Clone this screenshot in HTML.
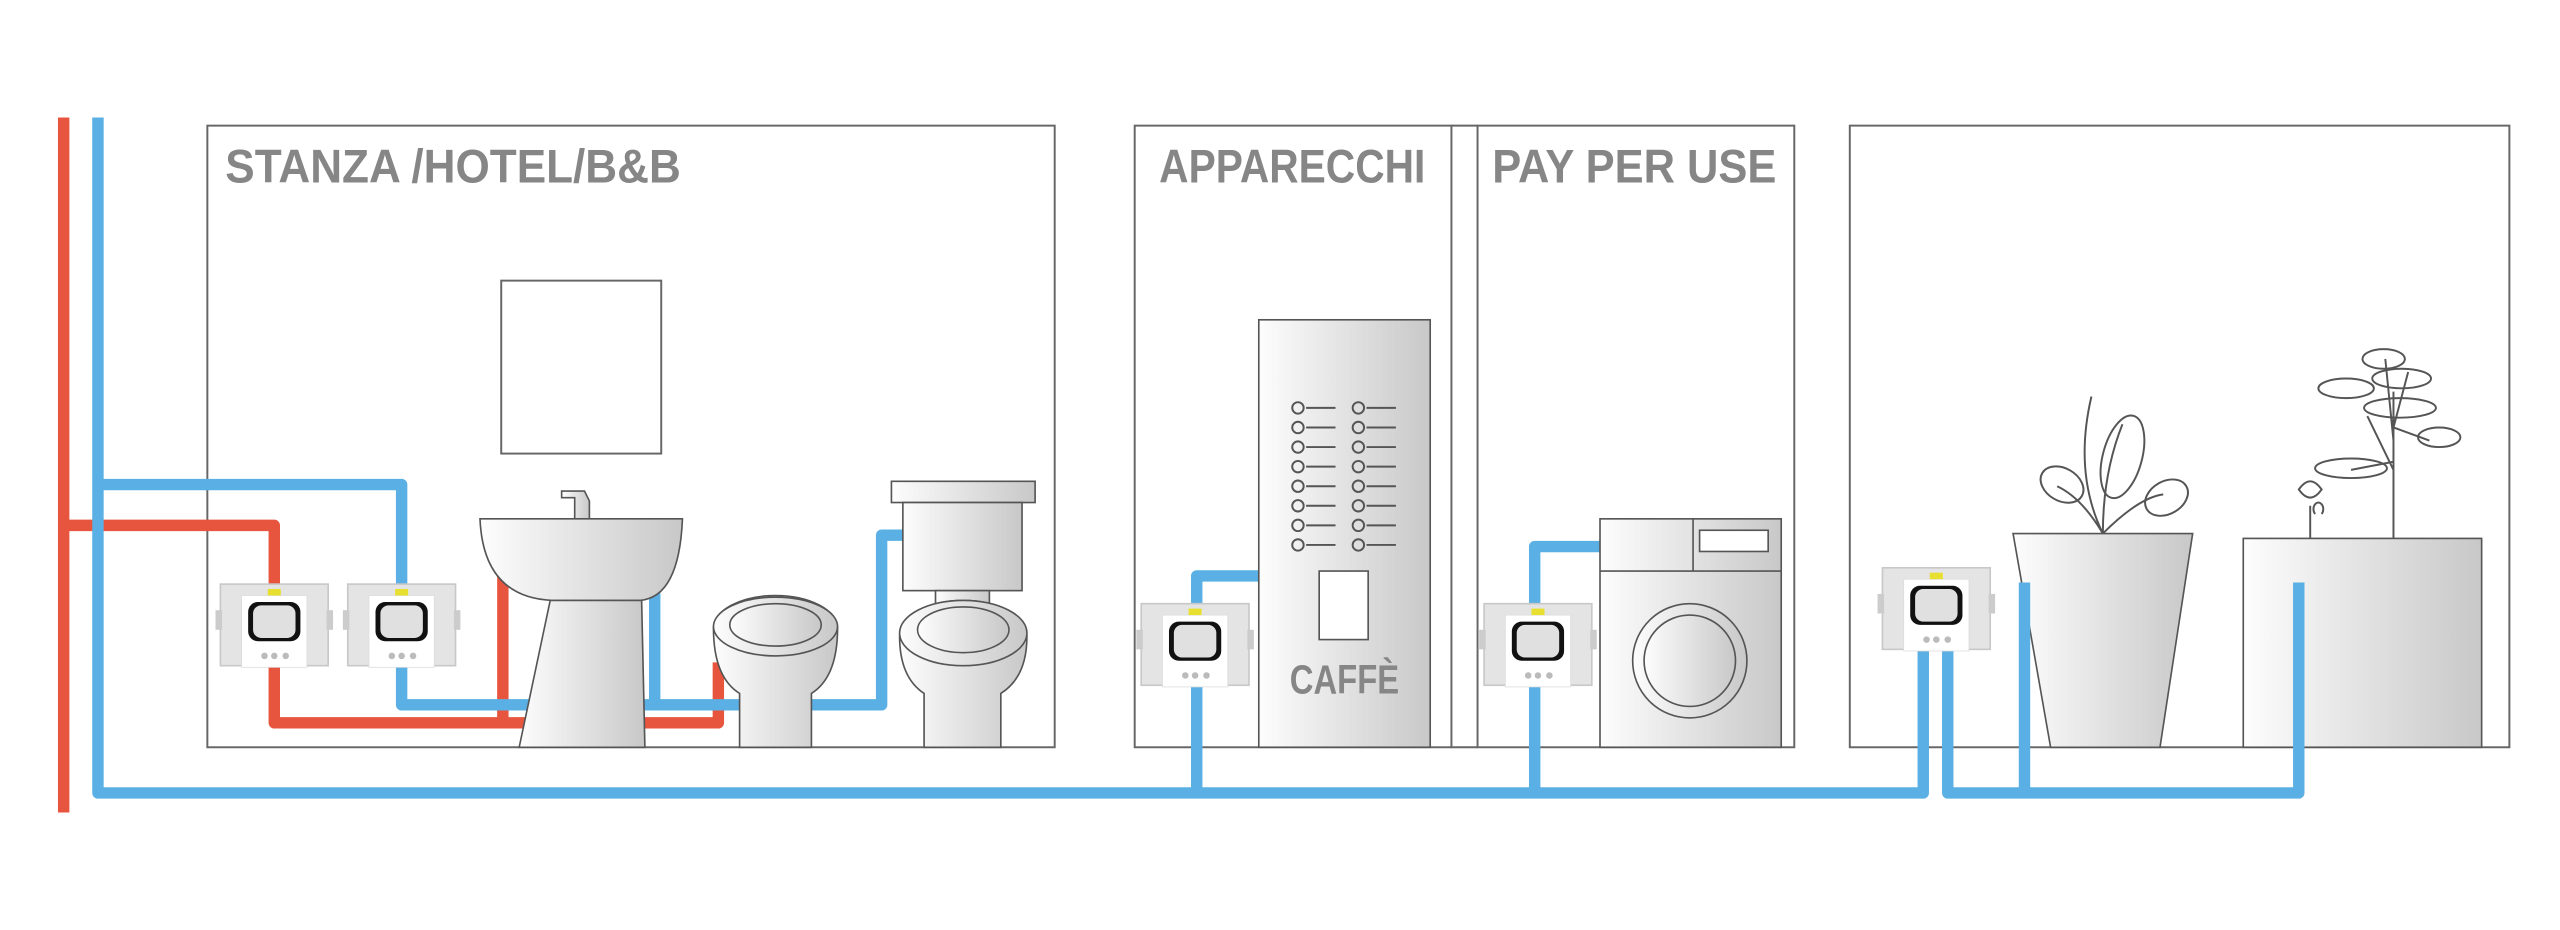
<!DOCTYPE html>
<html><head><meta charset="utf-8"><style>
html,body{margin:0;padding:0;background:#fff;width:2560px;height:930px;overflow:hidden}
svg{display:block}
text{font-family:"Liberation Sans Narrow","Liberation Sans",sans-serif;fill:#868686}
</style></head><body>
<svg width="2560" height="930" viewBox="0 0 1568 570" preserveAspectRatio="none" xmlns="http://www.w3.org/2000/svg">
<defs>
<linearGradient id="g" x1="0" x2="1" y1="0" y2="0"><stop offset="0" stop-color="#fdfdfd"/><stop offset="1" stop-color="#c8c8c8"/></linearGradient>
<g id="meter">
<rect x="0" y="0" width="66" height="50" fill="#e4e4e4" stroke="#c8c8c8"/>
<rect x="-3" y="16" width="4" height="12" fill="#ccc"/><rect x="65" y="16" width="4" height="12" fill="#ccc"/>
<rect x="13" y="7" width="40" height="44" fill="#fff" stroke="#ddd" stroke-width="0.5"/>
<rect x="29" y="3" width="8" height="4" fill="#e8e030"/>
<rect x="17" y="11" width="32" height="24" rx="6" fill="#111"/>
<rect x="20" y="13" width="26" height="20" rx="5" fill="#e0e0e0"/>
<circle cx="27" cy="44" r="2" fill="#bbb"/><circle cx="33" cy="44" r="2" fill="#bbb"/><circle cx="40" cy="44" r="2" fill="#bbb"/>
</g>
</defs>
<g fill="none" stroke="#666" stroke-width="1.2">
<rect x="127" y="77" width="519" height="381"/>
<rect x="307" y="172" width="98" height="106"/>
<rect x="695" y="77" width="194" height="381"/>
<rect x="905" y="77" width="194" height="381"/>
<line x1="889" y1="77" x2="905" y2="77"/><line x1="889" y1="458" x2="905" y2="458"/>
<rect x="1133" y="77" width="404" height="381"/>
</g>
<text x="138" y="112" font-size="29" font-weight="bold" textLength="279" lengthAdjust="spacingAndGlyphs">STANZA /HOTEL/B&amp;B</text>
<text x="710" y="112" font-size="29" font-weight="bold" textLength="163" lengthAdjust="spacingAndGlyphs">APPARECCHI</text>
<text x="914" y="112" font-size="29" font-weight="bold" textLength="174" lengthAdjust="spacingAndGlyphs">PAY PER USE</text>
<!-- pipes -->
<g fill="none" stroke-width="7" stroke-linejoin="round">
<path d="M39 72 V498" stroke="#e8553f"/>
<path d="M39 322 H168 V443 H440 V406" stroke="#e8553f"/>
<path d="M308 443 V350" stroke="#e8553f"/>
<path d="M60 72 V486 H1178 V395" stroke="#5ab0e4"/>
<path d="M60 297 H246 V432 H540 V328 H556" stroke="#5ab0e4"/>
<path d="M401 432 V350" stroke="#5ab0e4"/>
<path d="M733 486 V353 H771" stroke="#5ab0e4"/>
<path d="M940 486 V335 H980" stroke="#5ab0e4"/>
</g>
<!-- sink -->
<g stroke="#555" stroke-width="1" fill="url(#g)">
<path d="M352 318 V305 h-8 v-4 h14 l3 6 v11z"/>
<path d="M294 318 H418 Q416 366 392 368 H338 Q296 366 294 318z"/>
<path d="M337 368 H393 L395 458 H318z"/>
<path d="M437 385 A38 20 0 0 1 513 385 Q513 415 497 425 L497 458 H453 L453 425 Q437 415 437 385z"/>
<ellipse cx="475" cy="384" rx="38" ry="18"/>
<ellipse cx="475" cy="383" rx="28" ry="13"/>
<rect x="546" y="295" width="88" height="13"/>
<rect x="553" y="308" width="73" height="54"/>
<rect x="573" y="362" width="33" height="10"/>
<path d="M551 390 A39 22 0 0 1 629 390 Q629 415 613 425 L613 458 H566 L566 425 Q551 415 551 390z"/>
<ellipse cx="590" cy="388" rx="39" ry="20"/>
<ellipse cx="590" cy="386" rx="28" ry="14"/>
<rect x="771" y="196" width="105" height="262"/>
<rect x="808" y="350" width="30" height="42" fill="#fff"/>
<rect x="980" y="318" width="111" height="140"/>
<line x1="980" y1="350" x2="1091" y2="350"/><line x1="1037" y1="318" x2="1037" y2="350"/>
<rect x="1041" y="325" width="42" height="13" fill="#fff"/>
<circle cx="1035" cy="405" r="35"/><circle cx="1035" cy="405" r="28"/>
<path d="M1233 327 H1343 L1323 458 H1256z"/>
<rect x="1374" y="330" width="146" height="128"/>
</g>
<g fill="none" stroke-width="7" stroke-linejoin="round" stroke="#5ab0e4">
<path d="M1193 395 V486 H1408 V357"/>
<path d="M1240 486 V357"/>
</g>
<text x="790" y="425" font-size="25" font-weight="bold" textLength="67" lengthAdjust="spacingAndGlyphs">CAFFÈ</text>
<g stroke="#555" stroke-width="1.2" fill="none">
<g id="btn"><circle cx="795" cy="250" r="3.5"/><line x1="800" y1="250" x2="818" y2="250"/><circle cx="832" cy="250" r="3.5"/><line x1="837" y1="250" x2="855" y2="250"/></g>
<use href="#btn" y="12"/><use href="#btn" y="24"/><use href="#btn" y="36"/><use href="#btn" y="48"/><use href="#btn" y="60"/><use href="#btn" y="72"/><use href="#btn" y="84"/>
<path d="M1288 327 Q1270 290 1281 243 M1288 327 Q1288 290 1300 260 M1288 327 Q1310 305 1325 303 M1288 327 Q1275 305 1260 298"/>
<ellipse cx="1300" cy="280" rx="12" ry="26" transform="rotate(15 1300 280)"/>
<ellipse cx="1263" cy="297" rx="14" ry="10" transform="rotate(30 1263 297)"/>
<ellipse cx="1327" cy="305" rx="14" ry="10" transform="rotate(-30 1327 305)"/>
<path d="M1466 330 V240 M1466 288 L1450 255 M1466 262 L1488 270 M1466 270 L1461 220 M1466 283 L1440 288 M1466 262 L1475 228"/>
<ellipse cx="1460" cy="220" rx="13" ry="6"/><ellipse cx="1437" cy="238" rx="17" ry="6"/><ellipse cx="1471" cy="232" rx="18" ry="6"/>
<ellipse cx="1470" cy="250" rx="22" ry="6"/><ellipse cx="1494" cy="268" rx="13" ry="6"/><ellipse cx="1440" cy="287" rx="22" ry="6"/>
<path d="M1415 330 V310 M1408 300 q7 10 14 0 q-7 -10 -14 0z M1418 315 a3 4 0 1 1 4 0"/>
</g>
<use href="#meter" x="135" y="358"/>
<use href="#meter" x="213" y="358"/>
<use href="#meter" x="699" y="370"/>
<use href="#meter" x="909" y="370"/>
<use href="#meter" x="1153" y="348"/>
</svg>
</body></html>
